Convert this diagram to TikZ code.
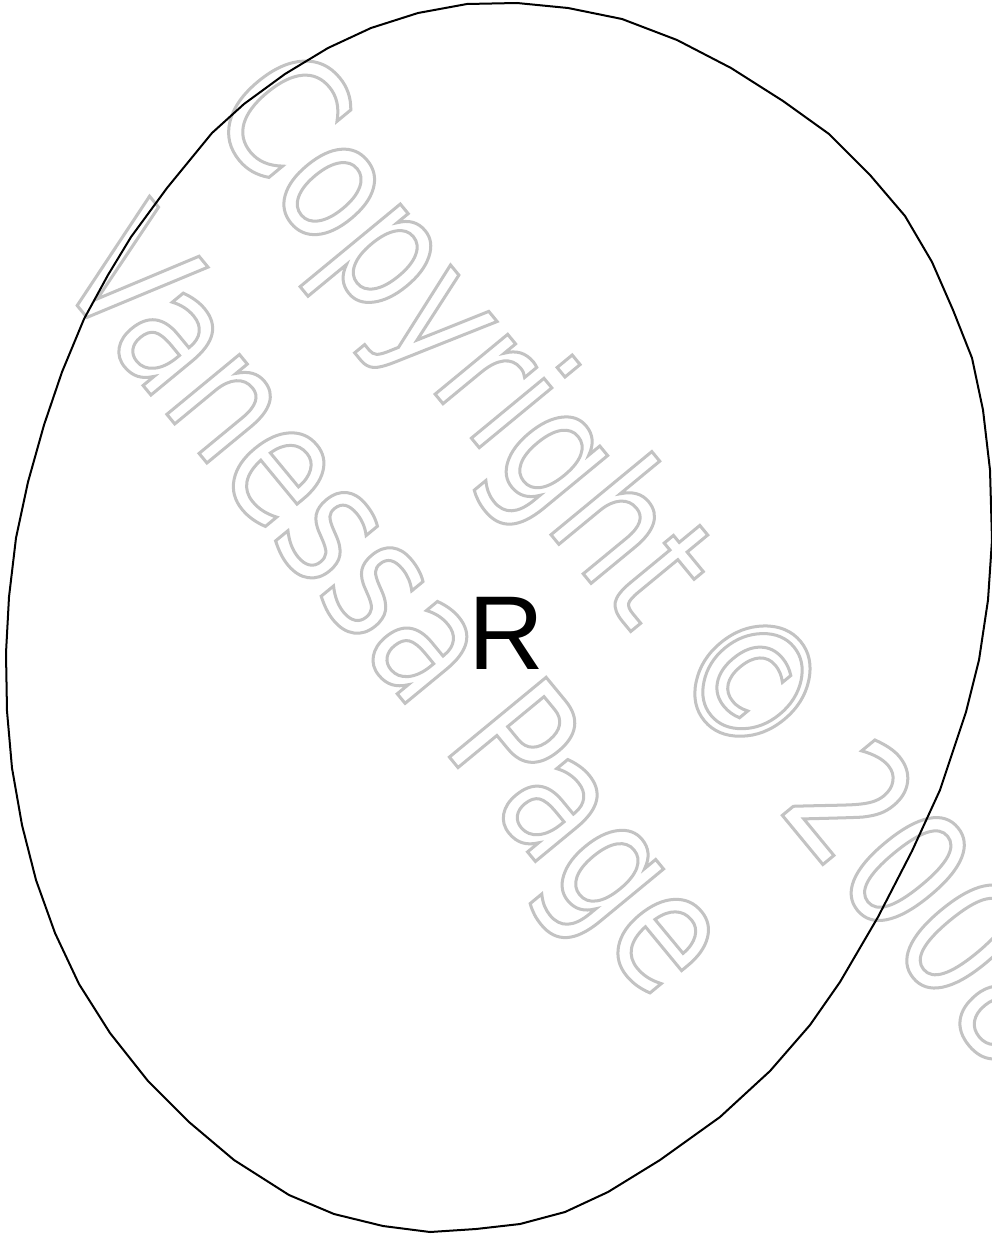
\documentclass[tikz,border=0pt]{standalone}
\usepackage{fontspec}
\setmainfont{Liberation Sans}
\newfontfamily\wmfont[FakeStretch=0.8]{DejaVu Sans}
\definecolor{wmgray}{RGB}{195,195,195}
\newcommand\wmoutline[1]{\special{pdf:literal direct 1 Tr 3 w}#1\special{pdf:literal direct 0 Tr}}
\tikzset{
  wmtext/.style={transform shape, anchor=base west, inner sep=0pt, text=wmgray,
    font=\wmfont\fontsize{172}{172}\selectfont},
  outline/.style={draw=black, line width=2pt, line join=round},
  label/.style={font=\fontsize{105}{105}\selectfont, inner sep=0pt}
}
\begin{document}
\begin{tikzpicture}[x=1pt,y=1pt]
\useasboundingbox (0,0) rectangle (992,-1236);
\fill[white] (0,0) rectangle (992,-1236);
% watermark
\begin{scope}[shift={(205,-115)}, rotate=-50.5]
  \node[wmtext] (wm1) at (0,0) {\wmoutline{Copyright © 2008}};
\end{scope}
\begin{scope}[shift={(52,-275)}, rotate=-50.5]
  \node[wmtext] (wm2) at (0,0) {\wmoutline{Vanessa Page}};
\end{scope}
% the faceted ellipse
\draw[outline] (467,-4) -- (517,-3) -- (568,-8) -- (622,-19) -- (677,-40) -- (731,-68)
  -- (783,-101) -- (829,-134) -- (870,-175) -- (905,-216) -- (932,-262) -- (953,-310)
  -- (972,-358) -- (983,-410) -- (990,-470) -- (992,-540) -- (988,-600) -- (979,-660)
  -- (966,-712) -- (940,-790) -- (912,-851) -- (878,-917) -- (840,-982) -- (810,-1025)
  -- (770,-1071) -- (720,-1117) -- (660,-1160) -- (608,-1192) -- (565,-1212) -- (520,-1224)
  -- (476,-1229) -- (430,-1232) -- (383,-1226) -- (334,-1214) -- (289,-1195) -- (234,-1160)
  -- (189,-1122) -- (148,-1081) -- (110,-1033) -- (79,-984) -- (55,-933) -- (36,-880)
  -- (22,-825) -- (12,-768) -- (7,-711) -- (6,-653) -- (9,-597) -- (16,-538) -- (28,-482)
  -- (44,-425) -- (62,-372) -- (84,-319) -- (108,-275) -- (131,-237) -- (167,-188)
  -- (212,-133) -- (244,-104) -- (285,-74) -- (328,-48) -- (371,-28) -- (418,-13) -- cycle;
\node[label] (R) at (506,-633) {R};
\end{tikzpicture}
\end{document}
